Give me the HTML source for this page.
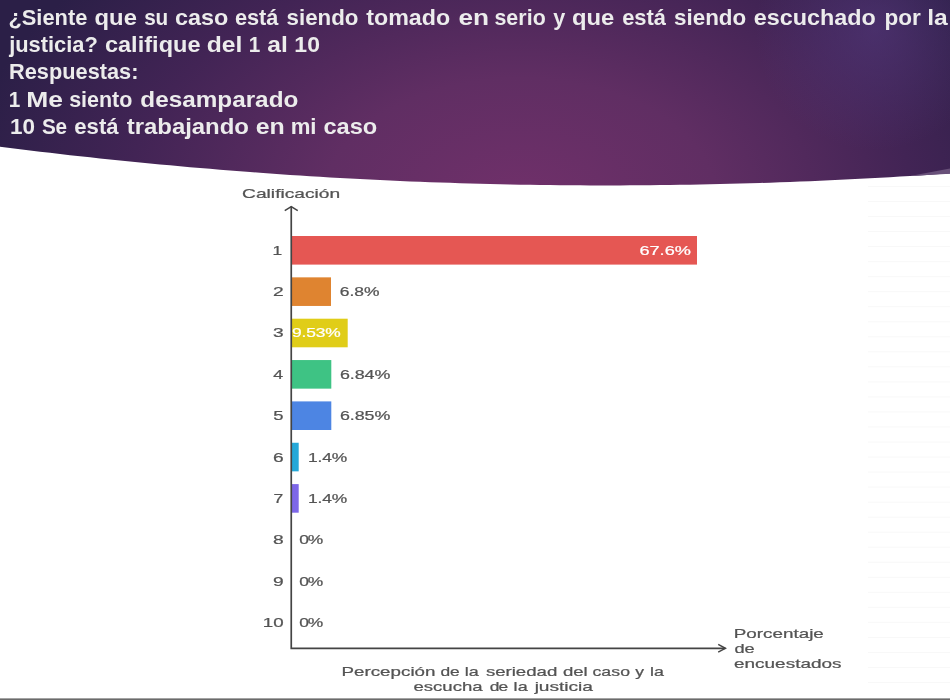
<!DOCTYPE html>
<html lang="es">
<head>
<meta charset="utf-8">
<title>Percepción de la seriedad del caso</title>
<style>
html,body{margin:0;padding:0;background:#ffffff;}
body{width:950px;height:700px;overflow:hidden;font-family:"Liberation Sans",sans-serif;}
svg{display:block;}
</style>
</head>
<body>
<svg width="950" height="700" viewBox="0 0 950 700">
<defs>
<radialGradient id="hg" gradientUnits="userSpaceOnUse" cx="520" cy="200" r="560" gradientTransform="translate(520 200) scale(1 0.62) translate(-520 -200)">
<stop offset="0" stop-color="#70306a"/>
<stop offset="0.35" stop-color="#602e63"/>
<stop offset="0.7" stop-color="#422455"/>
<stop offset="1" stop-color="#2b1f47"/>
</radialGradient>
<radialGradient id="hl" gradientUnits="userSpaceOnUse" cx="875" cy="30" r="120">
<stop offset="0" stop-color="#563a80" stop-opacity="0.55"/>
<stop offset="1" stop-color="#563a80" stop-opacity="0"/>
</radialGradient>
<filter id="soft" x="-2%" y="-2%" width="104%" height="104%" color-interpolation-filters="sRGB"><feGaussianBlur stdDeviation="0.38"/></filter>
<filter id="soft2" x="-2%" y="-10%" width="104%" height="120%" color-interpolation-filters="sRGB"><feGaussianBlur stdDeviation="0.3"/></filter>
</defs>
<rect x="0" y="0" width="950" height="700" fill="#ffffff"/>
<rect x="868" y="186.00" width="82" height="1" fill="#f8f8f8"/>
<rect x="868" y="201.03" width="82" height="1" fill="#f8f8f8"/>
<rect x="868" y="216.06" width="82" height="1" fill="#f8f8f8"/>
<rect x="868" y="231.09" width="82" height="1" fill="#f8f8f8"/>
<rect x="868" y="246.12" width="82" height="1" fill="#f8f8f8"/>
<rect x="868" y="261.15" width="82" height="1" fill="#f8f8f8"/>
<rect x="868" y="276.18" width="82" height="1" fill="#f8f8f8"/>
<rect x="868" y="291.21" width="82" height="1" fill="#f8f8f8"/>
<rect x="868" y="306.24" width="82" height="1" fill="#f8f8f8"/>
<rect x="868" y="321.27" width="82" height="1" fill="#f8f8f8"/>
<rect x="868" y="336.30" width="82" height="1" fill="#f8f8f8"/>
<rect x="868" y="351.33" width="82" height="1" fill="#f8f8f8"/>
<rect x="868" y="366.36" width="82" height="1" fill="#f8f8f8"/>
<rect x="868" y="381.39" width="82" height="1" fill="#f8f8f8"/>
<rect x="868" y="396.42" width="82" height="1" fill="#f8f8f8"/>
<rect x="868" y="411.45" width="82" height="1" fill="#f8f8f8"/>
<rect x="868" y="426.48" width="82" height="1" fill="#f8f8f8"/>
<rect x="868" y="441.51" width="82" height="1" fill="#f8f8f8"/>
<rect x="868" y="456.54" width="82" height="1" fill="#f8f8f8"/>
<rect x="868" y="471.57" width="82" height="1" fill="#f8f8f8"/>
<rect x="868" y="486.60" width="82" height="1" fill="#f8f8f8"/>
<rect x="868" y="501.63" width="82" height="1" fill="#f8f8f8"/>
<rect x="868" y="516.66" width="82" height="1" fill="#f8f8f8"/>
<rect x="868" y="531.69" width="82" height="1" fill="#f8f8f8"/>
<rect x="868" y="546.72" width="82" height="1" fill="#f8f8f8"/>
<rect x="868" y="561.75" width="82" height="1" fill="#f8f8f8"/>
<rect x="868" y="576.78" width="82" height="1" fill="#f8f8f8"/>
<rect x="868" y="591.81" width="82" height="1" fill="#f8f8f8"/>
<rect x="868" y="606.84" width="82" height="1" fill="#f8f8f8"/>
<rect x="868" y="621.87" width="82" height="1" fill="#f8f8f8"/>
<rect x="868" y="636.90" width="82" height="1" fill="#f8f8f8"/>
<rect x="868" y="651.93" width="82" height="1" fill="#f8f8f8"/>
<rect x="868" y="666.96" width="82" height="1" fill="#f8f8f8"/>
<rect x="868" y="681.99" width="82" height="1" fill="#f8f8f8"/>
<path d="M0,0 L950,0 L950,173.44 L940,174.11 L930,174.76 L920,175.40 L910,176.01 L900,176.61 L890,177.19 L880,177.75 L870,178.29 L860,178.82 L850,179.32 L840,179.80 L830,180.27 L820,180.71 L810,181.14 L800,181.54 L790,181.93 L780,182.29 L770,182.64 L760,182.97 L750,183.27 L740,183.56 L730,183.82 L720,184.07 L710,184.30 L700,184.50 L690,184.69 L680,184.85 L670,184.99 L660,185.12 L650,185.22 L640,185.30 L630,185.36 L620,185.40 L610,185.42 L600,185.42 L590,185.40 L580,185.35 L570,185.29 L560,185.20 L550,185.10 L540,184.97 L530,184.82 L520,184.65 L510,184.46 L500,184.25 L490,184.02 L480,183.76 L470,183.49 L460,183.19 L450,182.87 L440,182.53 L430,182.17 L420,181.79 L410,181.39 L400,180.96 L390,180.52 L380,180.05 L370,179.56 L360,179.05 L350,178.52 L340,177.97 L330,177.40 L320,176.80 L310,176.19 L300,175.55 L290,174.89 L280,174.21 L270,173.51 L260,172.79 L250,172.05 L240,171.29 L230,170.50 L220,169.70 L210,168.87 L200,168.02 L190,167.16 L180,166.27 L170,165.36 L160,164.43 L150,163.48 L140,162.51 L130,161.52 L120,160.50 L110,159.47 L100,158.42 L90,157.34 L80,156.25 L70,155.14 L60,154.00 L50,152.85 L40,151.68 L30,150.48 L20,149.27 L10,148.04 L0,146.79 Z" fill="url(#hg)"/>
<path d="M0,0 L950,0 L950,173.44 L940,174.11 L930,174.76 L920,175.40 L910,176.01 L900,176.61 L890,177.19 L880,177.75 L870,178.29 L860,178.82 L850,179.32 L840,179.80 L830,180.27 L820,180.71 L810,181.14 L800,181.54 L790,181.93 L780,182.29 L770,182.64 L760,182.97 L750,183.27 L740,183.56 L730,183.82 L720,184.07 L710,184.30 L700,184.50 L690,184.69 L680,184.85 L670,184.99 L660,185.12 L650,185.22 L640,185.30 L630,185.36 L620,185.40 L610,185.42 L600,185.42 L590,185.40 L580,185.35 L570,185.29 L560,185.20 L550,185.10 L540,184.97 L530,184.82 L520,184.65 L510,184.46 L500,184.25 L490,184.02 L480,183.76 L470,183.49 L460,183.19 L450,182.87 L440,182.53 L430,182.17 L420,181.79 L410,181.39 L400,180.96 L390,180.52 L380,180.05 L370,179.56 L360,179.05 L350,178.52 L340,177.97 L330,177.40 L320,176.80 L310,176.19 L300,175.55 L290,174.89 L280,174.21 L270,173.51 L260,172.79 L250,172.05 L240,171.29 L230,170.50 L220,169.70 L210,168.87 L200,168.02 L190,167.16 L180,166.27 L170,165.36 L160,164.43 L150,163.48 L140,162.51 L130,161.52 L120,160.50 L110,159.47 L100,158.42 L90,157.34 L80,156.25 L70,155.14 L60,154.00 L50,152.85 L40,151.68 L30,150.48 L20,149.27 L10,148.04 L0,146.79 Z" fill="url(#hl)"/>
<path d="M910,175.9 L950,168.6 L950,173.8 Z" fill="#685079"/>
<g font-family="'Liberation Sans', sans-serif" font-weight="bold" font-size="22.3" fill="#ececec" filter="url(#soft2)">
<g>
<text transform="translate(8.39 25.2) scale(0.9786 1)" textLength="80.64" lengthAdjust="spacing">¿Siente</text>
<text transform="translate(94.53 25.2) scale(1.0683 1)" textLength="39.64" lengthAdjust="spacing">que</text>
<text transform="translate(144.24 25.2) scale(0.93 1)" textLength="25.78" lengthAdjust="spacing">su</text>
<text transform="translate(175.0 25.2) scale(1.049 1)" textLength="50.75" lengthAdjust="spacing">caso</text>
<text transform="translate(234.97 25.2) scale(0.9774 1)" textLength="44.46" lengthAdjust="spacing">está</text>
<text transform="translate(286.59 25.2) scale(1.0008 1)" textLength="71.82" lengthAdjust="spacing">siendo</text>
<text transform="translate(366.23 25.2) scale(1.0432 1)" textLength="80.47" lengthAdjust="spacing">tomado</text>
<text transform="translate(458.48 25.2) scale(1.1763 1)" textLength="25.93" lengthAdjust="spacing">en</text>
<text transform="translate(494.44 25.2) scale(0.958 1)" textLength="53.52" lengthAdjust="spacing">serio</text>
<text transform="translate(553.15 25.2) scale(0.9719 1)">y</text>
<text transform="translate(572.06 25.2) scale(1.0683 1)" textLength="39.57" lengthAdjust="spacing">que</text>
<text transform="translate(622.16 25.2) scale(0.982 1)" textLength="44.60" lengthAdjust="spacing">está</text>
<text transform="translate(674.02 25.2) scale(1.0036 1)" textLength="71.86" lengthAdjust="spacing">siendo</text>
<text transform="translate(753.8 25.2) scale(1.048 1)" textLength="116.35" lengthAdjust="spacing">escuchado</text>
<text transform="translate(884.41 25.2) scale(1.0126 1)" textLength="35.89" lengthAdjust="spacing">por</text>
<text transform="translate(927.21 25.2) scale(1.1044 1)" textLength="18.65" lengthAdjust="spacing">la</text>
</g>
<g>
<text transform="translate(9.19 51.7) scale(0.9816 1)" textLength="90.34" lengthAdjust="spacing">justicia?</text>
<text transform="translate(104.9 51.7) scale(1.0556 1)" textLength="90.57" lengthAdjust="spacing">califique</text>
<text transform="translate(206.66 51.7) scale(1.105 1)" textLength="32.22" lengthAdjust="spacing">del</text>
<text transform="translate(248.78 51.7) scale(0.93 1)">1</text>
<text transform="translate(267.22 51.7) scale(1.1042 1)" textLength="18.64" lengthAdjust="spacing">al</text>
<text transform="translate(294.19 51.7) scale(1.0305 1)" textLength="25.00" lengthAdjust="spacing">10</text>
</g>
<g>
<text transform="translate(9.05 79.4) scale(0.975 1)" textLength="132.71" lengthAdjust="spacing">Respuestas:</text>
</g>
<g>
<text transform="translate(8.68 106.8) scale(0.93 1)">1</text>
<text transform="translate(26.28 106.8) scale(1.1856 1)" textLength="30.94" lengthAdjust="spacing">Me</text>
<text transform="translate(69.15 106.8) scale(0.9639 1)" textLength="65.49" lengthAdjust="spacing">siento</text>
<text transform="translate(140.35 106.8) scale(1.0903 1)" textLength="144.89" lengthAdjust="spacing">desamparado</text>
</g>
<g>
<text transform="translate(10.02 134.1) scale(1.0083 1)" textLength="24.88" lengthAdjust="spacing">10</text>
<text transform="translate(42.06 134.1) scale(0.93 1)" textLength="26.82" lengthAdjust="spacing">Se</text>
<text transform="translate(74.33 134.1) scale(0.9934 1)" textLength="44.56" lengthAdjust="spacing">está</text>
<text transform="translate(126.77 134.1) scale(1.0744 1)" textLength="113.73" lengthAdjust="spacing">trabajando</text>
<text transform="translate(255.82 134.1) scale(1.1173 1)" textLength="25.96" lengthAdjust="spacing">en</text>
<text transform="translate(290.67 134.1) scale(0.9937 1)" textLength="25.97" lengthAdjust="spacing">mi</text>
<text transform="translate(323.47 134.1) scale(1.0593 1)" textLength="50.79" lengthAdjust="spacing">caso</text>
</g>
</g>
<g font-family="'Liberation Sans', sans-serif" font-size="12.0" stroke-width="0.22" filter="url(#soft)">
<text transform="translate(242.11 198.3) scale(1.5977 1)" textLength="61.38" lengthAdjust="spacing" fill="#545454" stroke="#545454">Calificación</text>
<rect x="291.25" y="236.00" width="405.75" height="28.6" fill="#e55753"/>
<text transform="translate(272.61 254.8) scale(1.45 1)" fill="#545454" stroke="#545454">1</text>
<text transform="translate(639.42 254.8) scale(1.5123 1)" textLength="34.05" lengthAdjust="spacing" fill="#ffffff" stroke="#ffffff">67.6%</text>
<rect x="291.25" y="277.35" width="39.75" height="28.6" fill="#df8430"/>
<text transform="translate(273.08 296.1) scale(1.6 1)" fill="#545454" stroke="#545454">2</text>
<text transform="translate(339.71 296.1) scale(1.455 1)" textLength="27.30" lengthAdjust="spacing" fill="#545454" stroke="#545454">6.8%</text>
<rect x="291.25" y="318.70" width="56.45" height="28.6" fill="#e0cd18"/>
<text transform="translate(272.97 337.4) scale(1.6 1)" fill="#545454" stroke="#545454">3</text>
<text transform="translate(292.02 337.4) scale(1.45 1)" textLength="33.66" lengthAdjust="spacing" fill="#ffffff" stroke="#ffffff">9.53%</text>
<rect x="291.25" y="360.05" width="40.05" height="28.6" fill="#3ec384"/>
<text transform="translate(273.28 378.8) scale(1.4787 1)" fill="#545454" stroke="#545454">4</text>
<text transform="translate(339.96 378.8) scale(1.4881 1)" textLength="33.88" lengthAdjust="spacing" fill="#545454" stroke="#545454">6.84%</text>
<rect x="291.25" y="401.40" width="40.05" height="28.6" fill="#4d85e3"/>
<text transform="translate(273.33 420.1) scale(1.5321 1)" fill="#545454" stroke="#545454">5</text>
<text transform="translate(339.96 420.1) scale(1.4881 1)" textLength="33.88" lengthAdjust="spacing" fill="#545454" stroke="#545454">6.85%</text>
<rect x="291.25" y="442.75" width="7.45" height="28.6" fill="#25a8d8"/>
<text transform="translate(272.88 461.5) scale(1.6 1)" fill="#545454" stroke="#545454">6</text>
<text transform="translate(307.92 461.5) scale(1.45 1)" textLength="27.19" lengthAdjust="spacing" fill="#545454" stroke="#545454">1.4%</text>
<rect x="291.25" y="484.10" width="7.45" height="28.6" fill="#7d67e8"/>
<text transform="translate(273.38 502.9) scale(1.4616 1)" fill="#545454" stroke="#545454">7</text>
<text transform="translate(307.92 502.9) scale(1.45 1)" textLength="27.19" lengthAdjust="spacing" fill="#545454" stroke="#545454">1.4%</text>
<text transform="translate(272.95 544.2) scale(1.6 1)" fill="#545454" stroke="#545454">8</text>
<text transform="translate(299.2 544.2) scale(1.45 1)" textLength="16.59" lengthAdjust="spacing" fill="#545454" stroke="#545454">0%</text>
<text transform="translate(272.89 585.5) scale(1.6 1)" fill="#545454" stroke="#545454">9</text>
<text transform="translate(299.2 585.5) scale(1.45 1)" textLength="16.59" lengthAdjust="spacing" fill="#545454" stroke="#545454">0%</text>
<text transform="translate(262.63 626.9) scale(1.5594 1)" textLength="13.55" lengthAdjust="spacing" fill="#545454" stroke="#545454">10</text>
<text transform="translate(299.2 626.9) scale(1.45 1)" textLength="16.59" lengthAdjust="spacing" fill="#545454" stroke="#545454">0%</text>
<text transform="translate(733.76 637.8) scale(1.5703 1)" textLength="57.36" lengthAdjust="spacing" fill="#545454" stroke="#545454">Porcentaje</text>
<text transform="translate(734.4 652.6) scale(1.5217 1)" textLength="13.37" lengthAdjust="spacing" fill="#545454" stroke="#545454">de</text>
<text transform="translate(733.98 667.5) scale(1.5816 1)" textLength="68.03" lengthAdjust="spacing" fill="#545454" stroke="#545454">encuestados</text>
<text transform="translate(341.51 675.8) scale(1.5631 1)" textLength="60.12" lengthAdjust="spacing" fill="#545454" stroke="#545454">Percepción</text> <text transform="translate(440.41 675.8) scale(1.45 1)" textLength="13.37" lengthAdjust="spacing" fill="#545454" stroke="#545454">de</text> <text transform="translate(464.64 675.8) scale(1.4954 1)" textLength="9.42" lengthAdjust="spacing" fill="#545454" stroke="#545454">la</text> <text transform="translate(485.89 675.8) scale(1.556 1)" textLength="45.89" lengthAdjust="spacing" fill="#545454" stroke="#545454">seriedad</text> <text transform="translate(562.99 675.8) scale(1.5514 1)" textLength="15.87" lengthAdjust="spacing" fill="#545454" stroke="#545454">del</text> <text transform="translate(592.45 675.8) scale(1.4712 1)" textLength="25.55" lengthAdjust="spacing" fill="#545454" stroke="#545454">caso</text> <text transform="translate(635.22 675.8) scale(1.4617 1)" fill="#545454" stroke="#545454">y</text> <text transform="translate(650.04 675.8) scale(1.4841 1)" textLength="9.37" lengthAdjust="spacing" fill="#545454" stroke="#545454">la</text>
<text transform="translate(413.47 690.5) scale(1.5477 1)" textLength="44.72" lengthAdjust="spacing" fill="#545454" stroke="#545454">escucha</text> <text transform="translate(489.71 690.5) scale(1.45 1)" textLength="12.68" lengthAdjust="spacing" fill="#545454" stroke="#545454">de</text> <text transform="translate(513.62 690.5) scale(1.4954 1)" textLength="9.39" lengthAdjust="spacing" fill="#545454" stroke="#545454">la</text> <text transform="translate(534.65 690.5) scale(1.5953 1)" textLength="36.54" lengthAdjust="spacing" fill="#545454" stroke="#545454">justicia</text>
</g>
<g fill="none" stroke="#444444" stroke-width="1.7">
<path d="M291.25,206.6 L291.25,648.3 L725.3,648.3"/>
<path d="M284.75,210.7 L291.25,206.7 L297.75,210.7" stroke-width="1.5"/>
<path d="M718.2,644.4 L725.4,648.3 L718.2,652.2" stroke-width="1.5"/>
</g>
<rect x="0" y="698" width="950" height="1" fill="#a3a3a3"/>
<rect x="0" y="699" width="950" height="1" fill="#6b6b6b"/>
</svg>
</body>
</html>
